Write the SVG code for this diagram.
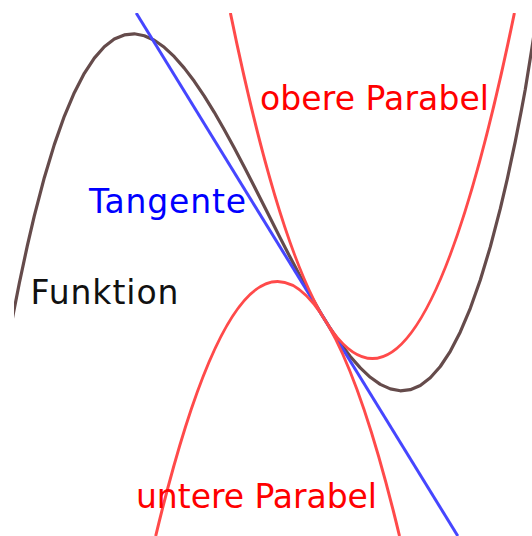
<svg xmlns="http://www.w3.org/2000/svg" width="532" height="536" viewBox="0 0 532 536">
  <style>
    .curve { fill: none; stroke-width: 3; stroke-linejoin: round; }
    .func { stroke: #654b4b; stroke-width: 3.2; }
    .tan { stroke: #4646ff; }
    .para { stroke: #ff4a4a; }
    .lbl { font-family: "DejaVu Sans", "Liberation Sans", sans-serif; font-size: 33px; }
  </style>
  <defs>
    <clipPath id="plot">
      <rect x="14" y="13" width="518" height="523"/>
    </clipPath>
  </defs>
  <rect width="532" height="536" fill="#ffffff"/>
  <g id="curves" clip-path="url(#plot)">
    <path id="funktion" class="curve func" d="M9.3,335.3 L13.3,313.8 L19.3,283.3 L27.3,245.8 L34.3,215.9 L44.3,177.7 L54.3,144.6 L64.3,116.3 L74.3,92.7 L84.3,73.3 L94.3,58.1 L104.3,46.8 L114.3,39.1 L124.3,34.9 L134.3,33.8 L144.3,35.7 L154.3,40.2 L164.3,47.3 L174.3,56.7 L184.3,68.1 L194.3,81.3 L204.3,96.1 L214.3,112.3 L224.3,129.7 L234.3,148.0 L244.3,167.0 L254.3,186.5 L267.3,212.3 L280.3,238.1 L290.3,257.6 L300.3,276.6 L310.3,294.9 L320.3,312.3 L330.3,328.5 L340.3,343.3 L350.3,356.5 L360.3,367.9 L370.3,377.3 L380.3,384.4 L390.3,388.9 L400.3,390.8 L410.3,389.7 L420.3,385.5 L430.3,377.8 L440.3,366.5 L450.3,351.3 L460.3,331.9 L470.3,308.3 L480.3,280.0 L490.3,246.9 L500.3,208.7 L507.3,178.8 L515.3,141.3 L521.3,110.8 L525.3,89.3 L531.3,52 L535,28"/>
    <path id="tangente" class="curve tan" d="M136.2,13 L457.8,536"/>
    <path id="obere-parabel" class="curve para" d="M230.4,13 Q372.4,704.2 514.4,13"/>
    <path id="untere-parabel" class="curve para" d="M155.7,536 Q277.6,26.8 399.5,536"/>
  </g>
  <g id="labels">
    <text id="label-obere" class="lbl" x="260" y="110" fill="#ff0000" textLength="229" lengthAdjust="spacing">obere Parabel</text>
    <text id="label-tangente" class="lbl" x="89" y="213" fill="#0000ff" textLength="157" lengthAdjust="spacing">Tangente</text>
    <text id="label-funktion" class="lbl" x="30.5" y="304" fill="#111111" textLength="148" lengthAdjust="spacing">Funktion</text>
    <text id="label-untere" class="lbl" x="136" y="507.5" fill="#ff0000" textLength="241" lengthAdjust="spacing">untere Parabel</text>
  </g>
</svg>
